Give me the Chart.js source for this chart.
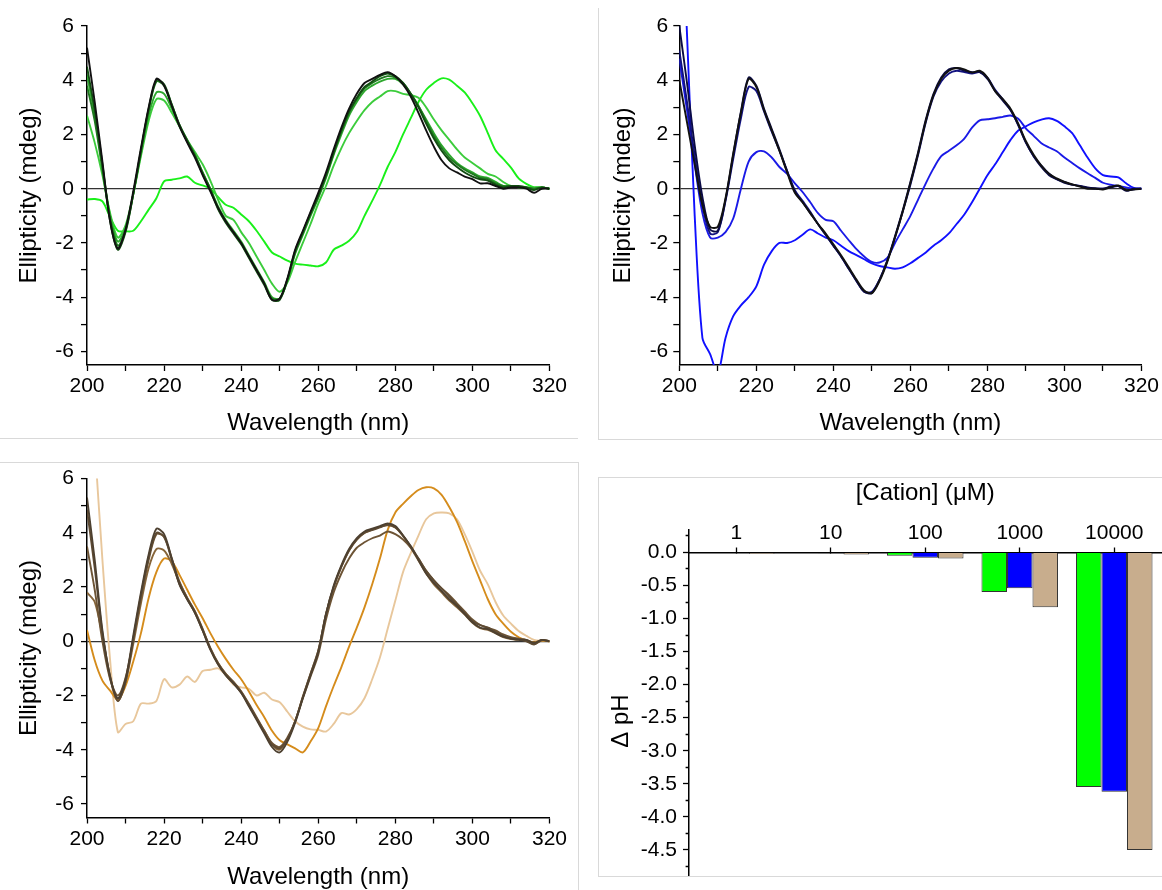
<!DOCTYPE html>
<html lang="en">
<head>
<meta charset="UTF-8" />
<title>CD spectra and pH change</title>
<script src="https://cdn.jsdelivr.net/npm/chart.js"></script>
<style>
  body {
    margin: 0;
    width: 1162px;
    height: 890px;
    overflow: hidden;
    position: relative;
    background: #fff;
    font-family: "Liberation Sans", Arial, sans-serif;
  }
  .panel { position: absolute; overflow: hidden; }
  .panel canvas { position: absolute; left: 0; top: 0; }
  .rule { position: absolute; background: #d9d9d9; }
</style>
</head>
<body>
  <div class="panel" style="left:0;top:0;width:578px;height:438px">
    <canvas id="cdGreen" width="578" height="438"></canvas>
  </div>
  <div class="panel" style="left:598px;top:0;width:564px;height:440px">
    <canvas id="cdBlue" width="564" height="440"></canvas>
  </div>
  <div class="panel" style="left:0;top:462px;width:578px;height:428px">
    <canvas id="cdBrown" width="578" height="440"></canvas>
  </div>
  <div class="panel" style="left:598px;top:477px;width:564px;height:399px">
    <canvas id="phBars" width="564" height="435"></canvas>
  </div>

  <!-- panel frames -->
  <div class="rule" style="left:0;top:438px;width:578px;height:1px"></div>
  <div class="rule" style="left:598px;top:8px;width:1px;height:432px"></div>
  <div class="rule" style="left:598px;top:439px;width:564px;height:1px"></div>
  <div class="rule" style="left:0;top:462px;width:578px;height:1px"></div>
  <div class="rule" style="left:578px;top:462px;width:1px;height:428px"></div>
  <div class="rule" style="left:598px;top:477px;width:564px;height:1px"></div>
  <div class="rule" style="left:598px;top:477px;width:1px;height:399px"></div>
  <div class="rule" style="left:598px;top:876px;width:564px;height:1px"></div>

<script>
// wavelength grid (nm), shared by all spectra
const wavelengths = [200,202,204,206,208,210,212,214,216,218,220,222,224,226,228,230,232,234,236,238,240,242,244,246,248,250,252,254,256,258,260,262,264,266,268,270,272,274,276,278,280,282,284,286,288,290,292,294,296,298,300,302,304,306,308,310,312,314,316,318,320];

// ellipticity (mdeg), green set
const green1 = [5.2,3.2,1.0,-1.2,-2.2,-1.5,-0.1,1.5,3.0,4.05, 3.8,3.05,2.3,1.7,1.15,0.5,-0.1,-0.7,-1.2,-1.6, -2.0,-2.5,-3.0,-3.5,-4.1,-4.05,-3.3,-2.25,-1.55,-0.85, -0.15,0.6,1.45,2.25,2.95,3.5,3.9,4.05,4.2,4.3, 4.15,3.85,3.4,2.8,2.15,1.55,1.05,0.75,0.6,0.45, 0.35,0.2,0.2,0.1,0.0,0.05,0.05,0.0,-0.15,0.0, 0.0];
const green2 = [4.5,2.9,0.9,-1.2,-2.25,-1.6,-0.2,1.4,2.95,4.0, 3.85,3.1,2.35,1.75,1.2,0.55,-0.05,-0.75,-1.25,-1.65, -2.05,-2.55,-3.05,-3.55,-4.1,-4.1,-3.35,-2.3,-1.6,-0.9, -0.25,0.5,1.35,2.15,2.85,3.35,3.75,3.95,4.15,4.25, 4.15,3.9,3.5,3.0,2.4,1.85,1.4,1.05,0.8,0.6, 0.45,0.35,0.3,0.15,0.05,0.1,0.1,0.05,-0.05,0.05, 0.0];
const green3 = [3.8,2.5,0.7,-1.1,-2.1,-1.55,-0.2,1.4,2.9,3.95, 3.8,3.1,2.35,1.8,1.25,0.6,0.0,-0.7,-1.2,-1.6, -2.0,-2.5,-3.0,-3.5,-4.05,-4.05,-3.35,-2.35,-1.65,-0.95, -0.3,0.45,1.3,2.1,2.8,3.3,3.7,3.9,4.05,4.15, 4.1,3.9,3.5,3.05,2.5,1.95,1.5,1.15,0.9,0.7, 0.55,0.4,0.35,0.2,0.1,0.1,0.05,0.05,0.0,0.05, 0.0];
const green4 = [4.2,2.7,0.8,-1.0,-1.95,-1.45,-0.2,1.3,2.7,3.55, 3.5,2.95,2.3,1.75,1.25,0.6,0.0,-0.65,-1.15,-1.55, -1.95,-2.45,-2.95,-3.45,-4.0,-4.05,-3.4,-2.4,-1.7,-1.0, -0.35,0.4,1.25,2.0,2.7,3.2,3.6,3.8,3.95,4.05, 4.05,3.85,3.5,3.05,2.55,2.05,1.6,1.25,0.95,0.75, 0.6,0.45,0.4,0.25,0.1,0.1,0.05,0.05,0.0,0.05, 0.0];
const green5 = [2.7,1.7,0.5,-0.9,-1.8,-1.35,-0.2,1.2,2.5,3.3, 3.25,2.8,2.3,1.8,1.35,0.9,0.3,-0.4,-1.0,-1.15, -1.6,-2.0,-2.5,-3.0,-3.5,-3.8,-3.45,-2.7,-2.0,-1.3, -0.55,0.1,0.85,1.5,2.05,2.5,2.9,3.2,3.4,3.6, 3.6,3.5,3.45,3.35,3.0,2.55,2.15,1.8,1.45,1.15, 0.95,0.75,0.55,0.45,0.25,0.1,0.05,0.05,0.05,0.05, 0.0];
const green6 = [-0.40,-0.38,-0.47,-1.05,-1.55,-1.57,-1.55,-1.2,-0.77,-0.35, 0.27,0.33,0.38,0.45,0.22,0.12,0.0,-0.3,-0.59,-0.7, -0.95,-1.2,-1.55,-1.95,-2.35,-2.5,-2.65,-2.76,-2.8,-2.83, -2.86,-2.72,-2.25,-2.1,-1.92,-1.6,-1.0,-0.45,0.13,0.8, 1.35,2.0,2.6,3.2,3.65,3.9,4.07,4.02,3.8,3.55, 3.15,2.68,2.05,1.42,1.1,0.78,0.38,0.18,0.05,0.05, 0.0];

// ellipticity (mdeg), blue set
const blue1 = [4.0,2.45,0.9,-0.6,-1.4,-1.4,-0.35,1.3,2.8,4.05, 3.75,2.9,2.15,1.4,0.6,-0.15,-0.5,-0.9,-1.3,-1.65, -2.05,-2.45,-2.9,-3.35,-3.75,-3.85,-3.4,-2.7,-1.8,-0.85, 0.2,1.3,2.5,3.45,4.05,4.35,4.45,4.4,4.28,4.35, 4.1,3.6,3.3,2.95,2.4,1.75,1.25,0.85,0.55,0.38, 0.25,0.16,0.08,0.0,0.0,-0.03,0.05,0.12,-0.05,-0.03, 0.0];
const blue2 = [6.0,3.9,1.6,-0.3,-1.5,-1.55,-0.4,1.25,2.85,4.1, 3.8,2.95,2.2,1.45,0.65,-0.1,-0.5,-0.9,-1.3,-1.7, -2.1,-2.5,-2.95,-3.4,-3.8,-3.85,-3.35,-2.65,-1.75,-0.8, 0.25,1.35,2.55,3.5,4.1,4.4,4.45,4.35,4.3,4.3, 4.05,3.6,3.25,2.9,2.35,1.7,1.2,0.8,0.5,0.35, 0.22,0.15,0.1,0.05,0.02,0.0,0.08,0.1,-0.08,0.0, 0.0];
const blue3 = [5.1,3.2,1.2,-0.6,-1.65,-1.6,-0.45,1.1,2.6,3.75, 3.6,2.85,2.1,1.4,0.65,-0.05,-0.45,-0.85,-1.3,-1.7, -2.1,-2.5,-2.95,-3.4,-3.8,-3.8,-3.35,-2.65,-1.8,-0.85, 0.15,1.25,2.45,3.4,3.95,4.25,4.35,4.3,4.25,4.3, 4.1,3.65,3.3,2.9,2.35,1.7,1.2,0.85,0.55,0.35, 0.25,0.15,0.1,0.02,0.0,0.0,0.05,0.1,-0.05,-0.02, 0.0];
const blue4 = [4.8,2.9,0.9,-0.9,-1.8,-1.8,-1.6,-1.1,0.0,1.0, 1.35,1.38,1.15,0.8,0.55,0.2,-0.12,-0.5,-0.9,-1.15, -1.2,-1.55,-1.9,-2.23,-2.5,-2.7,-2.72,-2.55,-2.0,-1.5, -1.0,-0.4,0.2,0.75,1.2,1.4,1.6,1.85,2.25,2.52, 2.56,2.6,2.65,2.7,2.58,2.22,1.95,1.68,1.52,1.38, 1.15,0.95,0.75,0.57,0.4,0.22,0.15,0.1,0.05,0.0, 0.0];
const blue5 = [12.5,5.7,-1.0,-5.5,-6.1,-6.8,-5.5,-4.7,-4.3,-4.0, -3.6,-2.8,-2.3,-2.0,-2.0,-1.9,-1.7,-1.5,-1.65,-1.8, -1.9,-2.1,-2.3,-2.45,-2.6,-2.75,-2.85,-2.9,-2.95,-2.9, -2.75,-2.55,-2.35,-2.1,-1.9,-1.65,-1.3,-0.95,-0.5,0.0, 0.5,0.9,1.35,1.8,2.15,2.3,2.45,2.55,2.6,2.5, 2.3,2.05,1.6,1.15,0.75,0.5,0.45,0.42,0.2,0.03, 0.0];

// ellipticity (mdeg), brown set
const brown1 = [5.3,3.0,0.4,-1.3,-2.1,-1.4,0.2,1.8,3.2,4.15, 3.95,3.05,2.1,1.55,1.05,0.4,-0.3,-0.85,-1.25,-1.55, -1.9,-2.4,-2.9,-3.4,-3.9,-4.1,-3.7,-3.0,-2.1,-1.25, -0.4,1.0,2.05,2.8,3.4,3.8,4.05,4.15,4.25,4.35, 4.25,3.9,3.5,3.0,2.5,2.15,1.85,1.55,1.3,1.0, 0.7,0.5,0.45,0.3,0.17,0.1,0.05,0.05,-0.07,0.05, 0.0];
const brown2 = [4.85,2.7,0.3,-1.35,-2.2,-1.5,0.1,1.7,3.1,4.0, 3.85,3.0,2.1,1.55,1.05,0.4,-0.3,-0.85,-1.25,-1.55, -1.9,-2.35,-2.85,-3.35,-3.8,-3.95,-3.6,-2.95,-2.05,-1.2, -0.35,1.0,2.0,2.75,3.35,3.75,4.0,4.1,4.2,4.3, 4.2,3.9,3.5,3.05,2.6,2.25,1.95,1.65,1.35,1.05, 0.75,0.6,0.5,0.35,0.2,0.1,0.08,0.0,-0.12,0.05, 0.0];
const brown3 = [3.5,1.9,0.0,-1.4,-2.0,-1.35,0.05,1.6,3.0,3.95, 3.85,3.05,2.2,1.6,1.1,0.45,-0.25,-0.8,-1.2,-1.5, -1.85,-2.3,-2.8,-3.3,-3.75,-3.9,-3.55,-2.95,-2.1,-1.3, -0.5,0.8,1.8,2.5,3.05,3.45,3.65,3.8,3.9,4.05, 3.95,3.75,3.45,3.05,2.6,2.25,1.95,1.7,1.4,1.1, 0.8,0.6,0.5,0.4,0.25,0.15,0.1,0.05,-0.05,0.05, 0.0];
const brown4 = [1.8,1.45,0.2,-1.3,-2.2,-1.5,-0.1,1.4,2.7,3.4, 3.35,2.85,2.15,1.6,1.1,0.45,-0.25,-0.8,-1.2,-1.5, -1.85,-2.35,-2.85,-3.3,-3.8,-4.0,-3.6,-2.95,-2.05,-1.2, -0.35,1.0,2.0,2.75,3.35,3.75,4.0,4.12,4.22,4.28, 4.2,3.88,3.45,2.98,2.5,2.1,1.8,1.5,1.25,0.98, 0.68,0.48,0.42,0.3,0.15,0.08,0.05,0.02,-0.1,0.03, 0.0];
const brown5 = [0.42,-0.7,-1.45,-1.82,-2.16,-1.65,-0.75,0.3,1.6,2.55, 3.05,2.95,2.45,1.9,1.35,0.85,0.3,-0.2,-0.65,-1.05, -1.4,-1.85,-2.35,-2.8,-3.3,-3.65,-3.8,-3.95,-4.1,-3.7, -3.2,-2.4,-1.65,-0.95,-0.2,0.5,1.25,2.1,3.05,4.1, 4.75,5.07,5.35,5.58,5.68,5.64,5.4,4.95,4.4,3.7, 2.95,2.25,1.55,1.0,0.65,0.35,0.15,0.03,-0.04,0.02, 0.0];
const brown6 = [11.5,7.3,3.0,-0.7,-3.35,-3.05,-2.95,-2.3,-2.3,-2.2, -1.4,-1.7,-1.6,-1.3,-1.5,-1.1,-1.05,-1.0,-1.25,-1.6, -1.7,-1.75,-2.0,-1.9,-2.15,-2.25,-2.6,-2.95,-3.15,-3.25, -3.27,-3.33,-3.05,-2.65,-2.7,-2.5,-2.1,-1.4,-0.6,0.45, 1.5,2.55,3.25,3.9,4.5,4.72,4.75,4.72,4.5,3.95, 3.3,2.6,2.1,1.45,0.95,0.65,0.38,0.2,0.05,0.02, 0.0];

// pH change per cation concentration (uM)
const concentrations = ['1', '10', '100', '1000', '10000'];
const dpHGreen = [0, 0, -0.05, -0.6, -3.55];
const dpHBlue = [0, -0.01, -0.08, -0.54, -3.62];
const dpHTan = [-0.02, -0.03, -0.09, -0.83, -4.5];

Chart.defaults.font.family = '"Liberation Sans", Arial, sans-serif';
Chart.defaults.color = '#000';

const AXIS = '#000';

// keep the chart area where the layout puts it: no extra room for edge labels
function fixSize(s, width, height) {
  if (width !== undefined) s.width = width;
  if (height !== undefined) s.height = height;
  s.paddingTop = 0;
  s.paddingBottom = 0;
  s.paddingLeft = 0;
  s.paddingRight = 0;
}

function spectrumChart(id, series, box) {
  return new Chart(document.getElementById(id), {
    type: 'line',
    data: {
      datasets: series.map(s => ({
        data: wavelengths.map((w, i) => ({ x: w, y: s.values[i] })),
        borderColor: s.color,
        borderWidth: 1.9,
        pointRadius: 0,
        tension: 0.3,
        fill: false
      }))
    },
    options: {
      responsive: false,
      animation: false,
      events: [],
      layout: { padding: box.padding },
      plugins: { legend: { display: false }, tooltip: { enabled: false } },
      scales: {
        x: {
          type: 'linear',
          min: 200,
          max: 320,
          afterFit: s => fixSize(s, undefined, box.xHeight),
          border: { display: true, color: AXIS, width: 1.5 },
          grid: { drawOnChartArea: false, tickLength: 6, tickColor: AXIS, tickWidth: 1.3 },
          ticks: {
            stepSize: 10, padding: 3, maxRotation: 0, autoSkip: false,
            font: { size: 21 },
            callback: v => (v % 20 === 0 ? String(v) : '')
          },
          title: { display: true, text: 'Wavelength (nm)', font: { size: 24 }, padding: { top: 0, bottom: 0 } }
        },
        y: {
          min: -6.5,
          max: 6,
          afterFit: s => fixSize(s, box.yWidth),
          border: { display: true, color: AXIS, width: 1.5 },
          grid: {
            color: c => (c.tick && c.tick.value === 0 ? '#333' : 'rgba(0,0,0,0)'),
            lineWidth: 1.2,
            tickLength: 6, tickColor: AXIS, tickWidth: 1.3
          },
          ticks: {
            stepSize: 1, includeBounds: false, padding: box.yTickPad, autoSkip: false,
            font: { size: 21 },
            callback: v => (v % 2 === 0 ? String(v) : '')
          },
          title: { display: true, text: 'Ellipticity (mdeg)', font: { size: 24 }, padding: { top: box.yTitlePad, bottom: 0 } }
        }
      }
    }
  });
}

spectrumChart('cdGreen', [
  { values: green1, color: '#111111' },
  { values: green2, color: '#124d12' },
  { values: green3, color: '#1f7a1f' },
  { values: green4, color: '#2ea82e' },
  { values: green5, color: '#3ccc3c' },
  { values: green6, color: '#19f019' }
], { padding: { left: 0, top: 26, right: 28.5, bottom: 0.6 }, yWidth: 87, xHeight: 72.4, yTickPad: 7, yTitlePad: 14.6 });

spectrumChart('cdBlue', [
  { values: blue1, color: '#111111' },
  { values: blue2, color: '#0b0b45' },
  { values: blue3, color: '#121280' },
  { values: blue4, color: '#1a1ae6' },
  { values: blue5, color: '#1010ff' }
], { padding: { left: 0, top: 26, right: 20.5, bottom: 2.6 }, yWidth: 81.3, xHeight: 72.4, yTickPad: 5, yTitlePad: 10.6 });

spectrumChart('cdBrown', [
  { values: brown1, color: '#4d4030' },
  { values: brown2, color: '#5f4b33' },
  { values: brown3, color: '#6d5435' },
  { values: brown4, color: '#86653a' },
  { values: brown5, color: '#d58c1c' },
  { values: brown6, color: '#e8c79c' }
], { padding: { left: 0, top: 16.6, right: 28.5, bottom: 10.6 }, yWidth: 87, xHeight: 73.9, yTickPad: 7, yTitlePad: 14.6 });

// axis title above the category labels
const cationTitle = {
  id: 'cationTitle',
  afterDraw(chart) {
    const { ctx, chartArea } = chart;
    ctx.save();
    ctx.font = '24px "Liberation Sans", Arial, sans-serif';
    ctx.fillStyle = '#000';
    ctx.textAlign = 'center';
    ctx.textBaseline = 'middle';
    ctx.fillText('[Cation] (\u03bcM)', (chartArea.left + chartArea.right) / 2, 16);
    ctx.restore();
  }
};

const isHalfStep = v => Math.abs(v * 2 - Math.round(v * 2)) < 1e-6;

new Chart(document.getElementById('phBars'), {
  type: 'bar',
  data: {
    labels: concentrations,
    datasets: [
      { data: dpHGreen, backgroundColor: '#00ff00' },
      { data: dpHBlue, backgroundColor: '#0000ff' },
      { data: dpHTan, backgroundColor: '#c8ad8d' }
    ]
  },
  options: {
    responsive: false,
    animation: false,
    events: [],
    layout: { padding: { left: 0, top: 53, right: 0.5, bottom: 0 } },
    datasets: { bar: { categoryPercentage: 0.81, barPercentage: 1.0, borderColor: '#333', borderWidth: 1 } },
    plugins: { legend: { display: false }, tooltip: { enabled: false } },
    scales: {
      x: {
        position: { y: 0 },
        afterFit: s => fixSize(s),
        border: { display: true, color: AXIS, width: 1.5 },
        grid: { offset: false, drawOnChartArea: false, tickLength: -6, tickColor: AXIS, tickWidth: 1.3 },
        ticks: { padding: -26, maxRotation: 0, font: { size: 21 } }
      },
      y: {
        position: 'left',
        min: -5.44,
        max: 0.34,
        afterFit: s => fixSize(s, 91),
        border: { display: true, color: AXIS, width: 1.5 },
        grid: {
          drawOnChartArea: false,
          tickLength: 6,
          tickColor: AXIS,
          tickWidth: 1.3,
          // minor ticks only show their inner part next to the axis
          tickBorderDash: c => (c.tick && isHalfStep(c.tick.value) ? [] : [0, 2.6, 20])
        },
        ticks: {
          stepSize: 0.25, includeBounds: false, padding: 6, autoSkip: false,
          font: { size: 21 },
          callback: v => (isHalfStep(v) && v > -4.6 ? v.toFixed(1) : '')
        },
        title: { display: true, text: '\u0394 pH', font: { size: 24 }, padding: { top: 8.6, bottom: 0 } }
      }
    }
  },
  plugins: [cationTitle]
});
</script>
</body>
</html>
